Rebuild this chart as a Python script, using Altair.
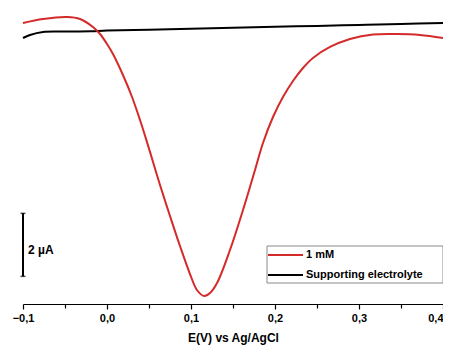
import altair as alt
import pandas as pd

# Red curve: 1 mM (potential V, current µA offset)
red_v = [-0.100, -0.0762, -0.0476, -0.0321, -0.0167, -0.0083, 0.0, 0.0071, 0.0190, 0.0298,
         0.0393, 0.0476, 0.0548, 0.0631, 0.0750, 0.0869, 0.0988, 0.1071, 0.1155, 0.1226,
         0.1310, 0.1464, 0.1619, 0.1762, 0.1857, 0.1976, 0.2095, 0.2214, 0.2333, 0.2452,
         0.2655, 0.2893, 0.3167, 0.3452, 0.3726, 0.400]
red_i = [8.794, 8.921, 8.984, 8.921, 8.667, 8.444, 8.127, 7.810, 7.143, 6.444,
         5.714, 5.016, 4.381, 3.651, 2.667, 1.714, 0.825, 0.317, 0.127, 0.222,
         0.540, 1.587, 2.857, 4.127, 4.984, 5.810, 6.444, 6.952, 7.365, 7.683,
         8.032, 8.286, 8.429, 8.444, 8.413, 8.317]

# Black curve: supporting electrolyte
black_v = [-0.100, -0.0917, -0.0762, -0.05, -0.02, 0.0, 0.05, 0.1, 0.15, 0.2, 0.25, 0.3, 0.35, 0.4]
black_i = [8.317, 8.413, 8.508, 8.52, 8.53, 8.552, 8.58, 8.613, 8.64, 8.673, 8.70, 8.733, 8.765, 8.794]

series_names = ["1 mM", "Supporting electrolyte"]
series_colors = ["#d42a2a", "#000000"]

x_ticks = [-0.1, -0.05, 0.0, 0.05, 0.1, 0.15, 0.2, 0.25, 0.3, 0.35, 0.4]
bar_v = -0.1
bar_i = [0.75, 2.75]
bar_label = "2 µA"

df = pd.concat([
    pd.DataFrame({"E": black_v, "I": black_i, "series": series_names[1], "ord": 0}),
    pd.DataFrame({"E": red_v, "I": red_i, "series": series_names[0], "ord": 1}),
])

xscale = alt.Scale(domain=[-0.1, 0.4], nice=False, zero=False)
yscale = alt.Scale(domain=[-0.127, 9.206], nice=False, zero=False)

FONT = "Liberation Sans"
MAJOR = "abs(datum.value*10 - round(datum.value*10)) < 0.01"

lines = alt.Chart(df).mark_line(strokeWidth=2, interpolate="catmull-rom").encode(
    x=alt.X("E:Q", scale=xscale, title="E(V) vs Ag/AgCl",
            axis=alt.Axis(values=x_ticks,
                          labelExpr=MAJOR + " ? replace(format(datum.value, '.1f'), '.', ',') : ''",
                          labelAlign={"condition": {"test": "datum.value > 0.35", "value": "right"}, "value": "center"},
                          tickSize={"condition": {"test": MAJOR, "value": 5}, "value": 4},
                          grid=False, domainColor="#000", tickColor="#000", domainWidth=1.2, tickWidth=1.2,
                          labelFont=FONT, labelFontWeight="bold", labelFontSize=11, labelColor="#000",
                          labelPadding=3, titleFont=FONT, titleFontWeight="bold", titleFontSize=12,
                          titleColor="#000", titlePadding=9, labelFlush=False)),
    y=alt.Y("I:Q", scale=yscale, axis=None),
    color=alt.Color("series:N", scale=alt.Scale(domain=series_names, range=series_colors), legend=None),
    order="ord:Q",
    detail="series:N",
)

bar_df = pd.DataFrame({"E": [bar_v], "I": [bar_i[0]], "I2": [bar_i[1]]})
bar = alt.Chart(bar_df).mark_rule(strokeWidth=2, color="#000").encode(
    x=alt.X("E:Q", scale=xscale), y=alt.Y("I:Q", scale=yscale), y2="I2:Q")

caps_df = pd.DataFrame({"E": [bar_v, bar_v], "I": bar_i})
caps = alt.Chart(caps_df).mark_tick(orient="horizontal", size=5, thickness=1.5, color="#000").encode(
    x=alt.X("E:Q", scale=xscale), y=alt.Y("I:Q", scale=yscale))

txt_df = pd.DataFrame({"E": [bar_v], "I": [sum(bar_i) / 2 - 0.15], "t": [bar_label]})
txt = alt.Chart(txt_df).mark_text(align="left", baseline="middle", dx=5, font=FONT,
                                  fontWeight="bold", fontSize=12, color="#000").encode(
    x=alt.X("E:Q", scale=xscale), y=alt.Y("I:Q", scale=yscale), text="t:N")

# Manual legend (box, line samples, labels)
dummy = pd.DataFrame({"k": [0]})
leg_box = alt.Chart(dummy).mark_rect(fill="white", stroke="#8a8a8a", strokeWidth=1).encode(
    x=alt.value(244), x2=alt.value(420), y=alt.value(236), y2=alt.value(273))
leg_items = []
for name, col, yy in zip(series_names, series_colors, [245, 265]):
    leg_items.append(alt.Chart(dummy).mark_rule(strokeWidth=2, color=col).encode(
        x=alt.value(245), x2=alt.value(280), y=alt.value(yy)))
    leg_items.append(alt.Chart(dummy).mark_text(align="left", baseline="middle", font=FONT,
                                                fontWeight="bold", fontSize=11, color="#000").encode(
        x=alt.value(283), y=alt.value(yy), text=alt.value(name)))

chart = alt.layer(lines, bar, caps, txt, leg_box, *leg_items).properties(
    width=420, height=294,
    autosize=alt.AutoSizeParams(type="none"),
    padding={"left": 15, "top": 2, "right": 0, "bottom": 42},
).configure_view(stroke=None)

chart.save("out.html", embed_options={"renderer": "svg", "actions": False})
